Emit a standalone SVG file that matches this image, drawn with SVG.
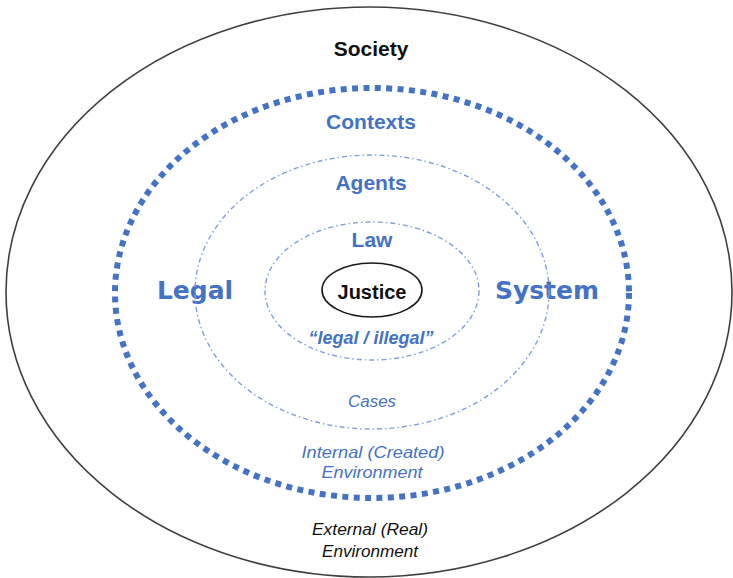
<svg xmlns="http://www.w3.org/2000/svg" width="733" height="578" viewBox="0 0 733 578">
  <style>
    .outer { fill: none; stroke: #3f3f3f; stroke-width: 1.6; }
    .system { fill: none; stroke: #4472c4; stroke-width: 6; stroke-dasharray: 6 5.4; }
    .ring { fill: none; stroke: #7f9fd8; stroke-width: 1.4; stroke-dasharray: 5 3 1.5 3; }
    .core { fill: #ffffff; stroke: #1a1a1a; stroke-width: 1.6; }
    .lbl { font-family: "Liberation Sans", Arial, sans-serif; text-anchor: middle; }
    .hb { font-weight: bold; font-size: 21px; fill: #4472c4; }
    .it { font-style: italic; font-size: 17px; fill: #4472c4; }
    .big { font-family: "DejaVu Sans", Verdana, sans-serif; font-weight: bold; font-size: 25px; fill: #4472c4; text-anchor: middle; }
  </style>
  <rect width="733" height="578" fill="#ffffff"/>

  <!-- society (outer boundary) -->
  <g id="society">
    <ellipse class="outer" cx="369" cy="292" rx="363" ry="285"/>
    <text class="lbl" x="371" y="56" font-size="21" font-weight="bold" fill="#111111">Society</text>
    <text class="lbl" x="370" y="535" font-size="17" font-style="italic" fill="#111111" textLength="116" lengthAdjust="spacingAndGlyphs">External (Real)</text>
    <text class="lbl" x="370" y="557" font-size="17" font-style="italic" fill="#111111" textLength="96" lengthAdjust="spacingAndGlyphs">Environment</text>
  </g>

  <!-- legal system boundary -->
  <g id="legal-system">
    <ellipse class="system" cx="372" cy="293" rx="257" ry="205"/>
    <text class="lbl hb" x="371" y="129">Contexts</text>
    <text class="big" x="195" y="299">Legal</text>
    <text class="big" x="547" y="299">System</text>
    <text class="lbl it" x="373" y="458" textLength="143" lengthAdjust="spacingAndGlyphs">Internal (Created)</text>
    <text class="lbl it" x="372" y="478" textLength="101" lengthAdjust="spacingAndGlyphs">Environment</text>
  </g>

  <!-- agents ring -->
  <g id="agents">
    <ellipse class="ring" cx="372" cy="292" rx="177" ry="137"/>
    <text class="lbl hb" x="371" y="190">Agents</text>
    <text class="lbl it" x="372" y="407" font-size="16">Cases</text>
  </g>

  <!-- law ring -->
  <g id="law">
    <ellipse class="ring" cx="372" cy="291" rx="107" ry="69"/>
    <text class="lbl hb" x="372" y="247">Law</text>
    <text class="lbl" x="371" y="344" font-size="17.5" font-weight="bold" font-style="italic" fill="#4472c4" textLength="125" lengthAdjust="spacingAndGlyphs">“legal / illegal”</text>
  </g>

  <!-- justice core -->
  <g id="justice">
    <ellipse class="core" cx="372" cy="290" rx="50" ry="27"/>
    <text class="lbl" x="372" y="299" font-size="20" font-weight="bold" fill="#111111">Justice</text>
  </g>

  <g id="connectors"/>
</svg>
